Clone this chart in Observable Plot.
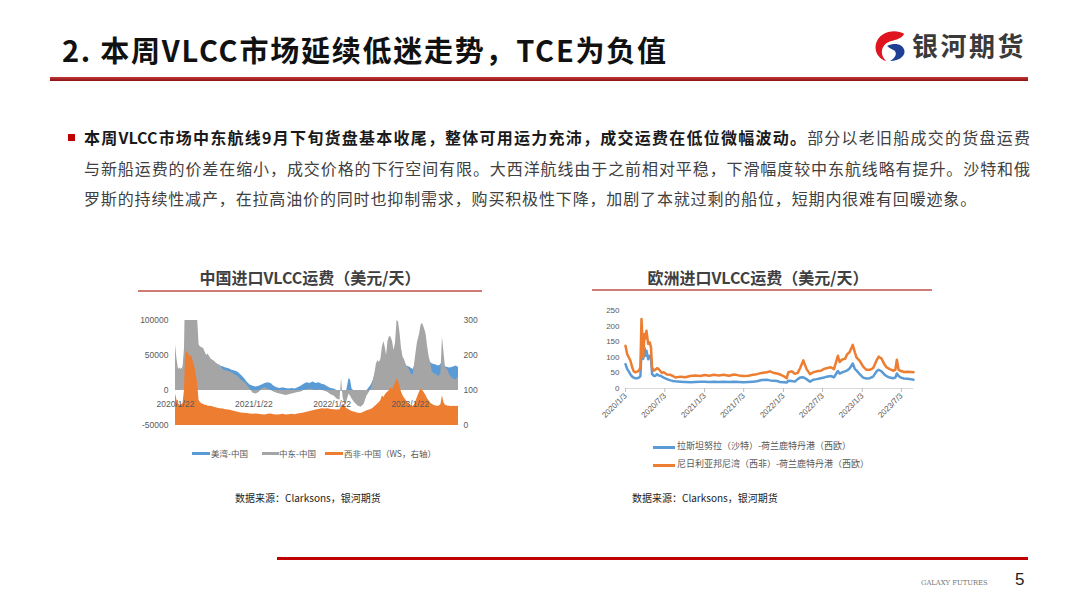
<!DOCTYPE html>
<html><head><meta charset="utf-8">
<script src="https://cdn.jsdelivr.net/npm/d3@7"></script>
<script src="https://cdn.jsdelivr.net/npm/@observablehq/plot@0.6"></script>
<style>
html,body{margin:0;padding:0;background:#fff;}
#page{position:relative;width:1080px;height:608px;overflow:hidden;font-family:"Noto Sans CJK SC","Noto Sans",sans-serif;}
.abs{position:absolute;white-space:nowrap;}
.line{position:absolute;left:84px;width:946px;height:30px;line-height:30px;font-size:16px;color:#404040;white-space:nowrap;}
.just{text-align:justify;text-align-last:justify;white-space:normal;}
.ctitle{position:absolute;text-align:center;font-size:16px;font-weight:700;color:#404040;line-height:22px;}
.leg{position:absolute;font-size:8.5px;color:#595959;line-height:12px;white-space:nowrap;}
.sw{position:absolute;height:3px;}
</style></head>
<body><div id="page">
<div class="abs" style="left:62px;top:29px;font-size:29px;font-weight:700;color:#111;line-height:40px;letter-spacing:1.75px;">2. 本周VLCC市场延续低迷走势，TCE为负值</div>
<div class="abs" style="left:50px;top:77px;width:978px;height:4px;background:linear-gradient(#c23a3a,#8e1010);"></div>
<svg class="abs" style="left:874px;top:29px" width="34" height="34" viewBox="0 0 36 34">
<path d="M32 4 C22 -2 5 2 2 15 C0 24 6 31 13 33 C6 27 7 17 15 13 C21 10 28 11 32 4Z" fill="#e0141e"/>
<path d="M14 17 C22 13 30 15 32 21 C34 27 27 33 17 33 C24 29 25 23 20 21 C18 20 16 19 14 17Z" fill="#1f3f94"/>
</svg>
<div class="abs" style="left:912px;top:27px;font-size:26px;font-weight:700;color:#3a3a3a;line-height:36px;letter-spacing:2.5px;">银河期货</div>

<div class="abs" style="left:68px;top:134px;width:7px;height:7px;background:#c00000;"></div>
<div class="line just" style="top:122px;"><b style="color:#1a1a1a">本周VLCC市场中东航线9月下旬货盘基本收尾，整体可用运力充沛，成交运费在低位微幅波动。</b>部分以老旧船成交的货盘运费</div>
<div class="line just" style="top:153px;">与新船运费的价差在缩小，成交价格的下行空间有限。大西洋航线由于之前相对平稳，下滑幅度较中东航线略有提升。沙特和俄</div>
<div class="line" style="top:183px;letter-spacing:0.85px;">罗斯的持续性减产，在拉高油价的同时也抑制需求，购买积极性下降，加剧了本就过剩的船位，短期内很难有回暖迹象。</div>

<div class="ctitle" style="left:138px;top:266px;width:344px;">中国进口VLCC运费（美元/天）</div>
<div class="abs" style="left:138px;top:290px;width:344px;height:1.5px;background:#cf7b78;"></div>
<div class="ctitle" style="left:586px;top:266px;width:344px;">欧洲进口VLCC运费（美元/天）</div>
<div class="abs" style="left:592px;top:289px;width:340px;height:1.5px;background:#cf7b78;"></div>

<div id="chartL" class="abs" style="left:130px;top:305px;"></div>
<div id="chartR" class="abs" style="left:585px;top:300px;"></div>

<div class="sw" style="left:192px;top:452px;width:18px;background:#5B9BD5"></div>
<div class="leg" style="left:211px;top:447px;">美湾-中国</div>
<div class="sw" style="left:262px;top:452px;width:17px;background:#A5A5A5"></div>
<div class="leg" style="left:279px;top:447px;">中东-中国</div>
<div class="sw" style="left:325px;top:452px;width:18px;background:#ED7D31"></div>
<div class="leg" style="left:344px;top:447px;">西非-中国（WS，右轴）</div>

<div class="sw" style="left:653px;top:446px;width:22px;background:#5B9BD5"></div>
<div class="leg" style="left:677px;top:440px;font-size:9px;">拉斯坦努拉（沙特）-荷兰鹿特丹港（西欧）</div>
<div class="sw" style="left:653px;top:464px;width:22px;background:#ED7D31"></div>
<div class="leg" style="left:677px;top:458px;font-size:9px;">尼日利亚邦尼湾（西非）-荷兰鹿特丹港（西欧）</div>

<div class="abs" style="left:235px;top:491px;font-size:10px;color:#222;line-height:14px;">数据来源：Clarksons，银河期货</div>
<div class="abs" style="left:632px;top:491px;font-size:10px;color:#222;line-height:14px;">数据来源：Clarksons，银河期货</div>

<div class="abs" style="left:277px;top:557px;width:751px;height:3px;background:#c00000;"></div>
<div class="abs" style="left:921px;top:577px;font-size:6.8px;color:#777;font-family:'DejaVu Serif','Liberation Serif',serif;line-height:12px;">GALAXY FUTURES</div>
<div class="abs" style="left:1015px;top:569px;font-size:17px;color:#222;font-family:'Liberation Sans',Arial,sans-serif;line-height:22px;">5</div>
</div>
<script>
// ---- 中国进口VLCC运费 ----
const cnDates = ["2020-01-22","2020-01-29","2020-02-05","2020-02-12","2020-02-19","2020-02-26","2020-03-04","2020-03-09","2020-03-16","2020-03-23","2020-03-30","2020-04-06","2020-04-13","2020-04-20","2020-04-27","2020-05-04","2020-05-11","2020-05-18","2020-05-25","2020-06-01","2020-06-08","2020-06-15","2020-06-22","2020-07-06","2020-07-20","2020-08-03","2020-08-17","2020-08-31","2020-09-14","2020-09-28","2020-10-12","2020-10-26","2020-11-09","2020-11-23","2020-12-07","2020-12-21","2021-01-04","2021-01-18","2021-02-01","2021-02-15","2021-03-01","2021-03-15","2021-03-29","2021-04-12","2021-04-26","2021-05-10","2021-05-24","2021-06-07","2021-06-21","2021-07-05","2021-07-19","2021-08-02","2021-08-16","2021-08-30","2021-09-13","2021-09-27","2021-10-11","2021-10-25","2021-11-08","2021-11-22","2021-12-06","2021-12-20","2022-01-03","2022-01-17","2022-01-31","2022-02-14","2022-02-28","2022-03-07","2022-03-14","2022-03-21","2022-03-28","2022-04-11","2022-04-18","2022-04-25","2022-05-09","2022-05-23","2022-06-06","2022-06-20","2022-07-04","2022-07-20","2022-07-27","2022-08-03","2022-08-10","2022-08-17","2022-08-24","2022-08-31","2022-09-07","2022-09-14","2022-09-21","2022-09-28","2022-10-03","2022-10-10","2022-10-17","2022-10-24","2022-10-31","2022-11-07","2022-11-14","2022-11-21","2022-11-28","2022-12-05","2022-12-12","2022-12-19","2022-12-26","2023-01-05","2023-01-15","2023-01-25","2023-02-05","2023-02-14","2023-02-24","2023-03-06","2023-03-13","2023-03-20","2023-03-30","2023-04-06","2023-04-13","2023-04-20","2023-04-27","2023-05-05","2023-05-15","2023-05-25","2023-06-05","2023-06-14","2023-06-21","2023-06-28","2023-07-05","2023-07-15","2023-07-25","2023-08-05","2023-08-15","2023-08-25","2023-09-04"];
// 美湾-中国 (美元/天)
const usgChina = [30000,33000,30000,28000,30000,32000,40000,60000,70000,75000,70000,65000,60000,60000,58000,55000,55000,55000,52000,56000,52000,50000,48000,42000,40000,38000,35000,34000,32000,31000,29000,28000,26000,22000,18000,12000,8000,6000,5000,6000,8000,10000,11000,10000,6000,4000,3000,4000,3000,2000,3000,2000,4000,6000,9000,11000,10000,12000,10000,11000,9000,8000,5000,3000,2000,0,-2000,0,-3000,-6000,-5000,17000,15000,2000,-2000,-5000,-8000,-5000,0,6000,10000,15000,22000,30000,35000,36000,40000,48000,52000,48000,45000,52000,58000,58000,55000,50000,55000,72000,70000,62000,50000,42000,38000,35000,34000,32000,30000,38000,50000,58000,66000,68000,62000,56000,48000,42000,40000,38000,37000,36000,35000,37000,42000,38000,34000,33000,32000,33000,34000,35000,33000];
// 中东-中国 (美元/天)
const megChina = [65000,45000,30000,32000,30000,33000,60000,150000,160000,170000,150000,140000,130000,120000,110000,105000,65000,62000,61000,60000,55000,50000,52000,45000,42000,38000,36000,30000,28000,27000,25000,22000,20000,15000,12000,8000,2000,-4000,-5000,-3000,2000,4000,2000,0,-2000,-4000,-5000,-6000,-7000,-6000,-5000,-4000,-3000,-2000,0,1000,2000,1000,0,1000,0,-1000,-3000,-6000,-8000,-12000,-14000,17000,-10000,-18000,-20000,-5000,-8000,-12000,-18000,-22000,-24000,-20000,-8000,0,5000,15000,25000,38000,43000,40000,45000,62000,70000,60000,50000,70000,77000,76000,70000,57000,68000,100000,98000,82000,60000,48000,44000,35000,32000,24000,22000,45000,68000,80000,93000,96000,88000,80000,62000,48000,40000,26000,24000,22000,20000,24000,76000,55000,33000,30000,22000,18000,16000,15000,20000];
// 西非-中国 (WS，右轴)
const wafChinaWS = [90,72,62,58,60,62,100,200,212,205,195,200,185,170,150,120,72,65,62,60,58,58,55,55,52,50,48,47,45,44,42,40,38,36,35,34,33,32,33,32,31,30,32,33,31,30,31,32,30,31,32,31,33,34,36,38,40,42,44,46,48,47,48,46,45,44,45,55,60,58,50,45,42,40,38,35,34,38,42,45,47,50,54,58,62,66,72,84,80,88,92,96,100,108,102,110,122,133,125,112,95,85,78,70,62,56,55,62,80,95,104,100,92,84,76,70,64,60,57,55,55,60,85,66,58,56,55,54,55,54,55];
const cnXTicks = ["2020-01-22","2021-01-22","2022-01-22","2023-01-22"];
const cnLeftTicks = [-50000,0,50000,100000];
const cnRightTicks = [0,100,200,300];

// ---- 欧洲进口VLCC运费 ----
const euDates = ["2020-01-03","2020-01-11","2020-01-18","2020-01-26","2020-02-03","2020-02-10","2020-02-18","2020-02-26","2020-03-05","2020-03-12","2020-03-17","2020-03-25","2020-03-31","2020-04-04","2020-04-09","2020-04-17","2020-04-24","2020-04-30","2020-05-05","2020-05-13","2020-05-20","2020-05-28","2020-06-05","2020-06-13","2020-06-20","2020-06-28","2020-07-13","2020-07-29","2020-08-10","2020-08-21","2020-09-13","2020-10-05","2020-10-29","2020-11-20","2020-12-15","2021-01-03","2021-01-25","2021-02-15","2021-03-10","2021-04-01","2021-04-25","2021-05-20","2021-06-10","2021-07-02","2021-07-25","2021-08-15","2021-09-02","2021-09-25","2021-10-18","2021-11-02","2021-11-20","2021-12-05","2021-12-18","2022-01-03","2022-01-18","2022-01-26","2022-02-10","2022-02-25","2022-03-10","2022-03-21","2022-04-05","2022-04-20","2022-05-06","2022-05-21","2022-06-06","2022-06-25","2022-07-10","2022-07-22","2022-08-10","2022-08-25","2022-09-12","2022-09-20","2022-10-02","2022-10-15","2022-10-25","2022-11-05","2022-11-20","2022-11-30","2022-12-07","2022-12-23","2023-01-07","2023-01-22","2023-02-07","2023-02-22","2023-03-10","2023-03-20","2023-04-02","2023-04-15","2023-04-25","2023-05-10","2023-05-25","2023-06-05","2023-06-12","2023-06-20","2023-07-01","2023-07-15","2023-08-01","2023-08-15","2023-08-28"];
// 拉斯坦努拉（沙特）-荷兰鹿特丹港（西欧）
const rasTanuraEu = [78,62,55,45,38,35,33,33,35,40,121,95,130,105,121,94,105,95,46,41,40,46,42,41,38,35,30,26,24,23,22,21,20,21,22,22,21,22,21,22,21,22,21,20,21,22,23,27,28,26,25,24,21,20,19,25,24,22,30,35,36,30,22,28,30,33,35,38,40,36,56,48,52,55,58,64,80,62,58,45,35,32,33,38,55,60,55,45,40,35,33,35,48,40,35,32,31,30,28];
// 尼日利亚邦尼湾（西非）-荷兰鹿特丹港（西欧）
const bonnyEu = [137,110,100,89,68,55,52,54,57,68,223,100,175,160,185,143,148,132,68,57,60,65,62,55,50,52,45,44,40,35,38,36,40,42,40,43,41,44,42,44,41,45,42,40,41,44,46,50,52,55,50,48,45,40,33,52,55,47,50,65,90,62,46,52,55,57,63,65,68,62,105,85,93,95,110,116,140,115,100,88,70,60,60,65,90,102,96,78,68,62,57,60,92,60,56,53,54,53,52];
const euXTicks = ["2020-01-03","2020-07-03","2021-01-03","2021-07-03","2022-01-03","2022-07-03","2023-01-03","2023-07-03"];
const euYTicks = [0,50,100,150,200,250];

const parse = d3.utcParse("%Y-%m-%d");
const fmtDate = d3.utcFormat("%Y/%-m/%-d");
const wsToLeft = v => (v - 100) * 500;

const cnData = cnDates.map((d, i) => ({date: parse(d), usg: usgChina[i], meg: megChina[i], waf: wafChinaWS[i]}));
const euData = euDates.map((d, i) => ({date: parse(d), rt: rasTanuraEu[i], bonny: bonnyEu[i]}));

const axisStyle = {fontFamily: "'Liberation Sans', Arial, sans-serif", color: "#595959", background: "transparent", overflow: "visible"};

const left = Plot.plot({
  width: 360, height: 140,
  marginLeft: 45, marginRight: 32, marginTop: 15, marginBottom: 20,
  style: {...axisStyle, fontSize: "8.5px"},
  x: {type: "utc", domain: [parse(cnDates[0]), parse(cnDates[cnDates.length - 1])]},
  y: {domain: [-50000, 100000]},
  marks: [
    Plot.areaY(cnData, {x: "date", y: "usg", fill: "#5B9BD5", clip: true}),
    Plot.areaY(cnData, {x: "date", y: "meg", fill: "#A5A5A5", clip: true}),
    Plot.areaY(cnData, {x: "date", y1: () => wsToLeft(0), y2: d => wsToLeft(d.waf), fill: "#ED7D31", clip: true}),
    Plot.axisY(cnLeftTicks, {tickSize: 0, tickPadding: 7, tickFormat: d => String(d), label: null}),
    Plot.axisY(cnRightTicks.map(wsToLeft), {anchor: "right", tickSize: 0, tickPadding: 5, tickFormat: d => String(d / 500 + 100), label: null}),
    Plot.axisX(cnXTicks.map(parse), {tickSize: 0, tickPadding: 0, dy: -25, tickFormat: fmtDate, label: null, fill: "#595959"})
  ]
});
document.getElementById("chartL").appendChild(left);

const right = Plot.plot({
  width: 345, height: 135,
  marginLeft: 40, marginRight: 17, marginTop: 10, marginBottom: 47,
  style: {...axisStyle, fontSize: "8px"},
  x: {type: "utc", domain: [parse(euDates[0]), parse(euDates[euDates.length - 1])]},
  y: {domain: [0, 250]},
  marks: [
    Plot.ruleY([0], {stroke: "#d9d9d9"}),
    Plot.lineY(euData, {x: "date", y: "rt", stroke: "#5B9BD5", strokeWidth: 2.5}),
    Plot.lineY(euData, {x: "date", y: "bonny", stroke: "#ED7D31", strokeWidth: 2.5}),
    Plot.axisY(euYTicks, {tickSize: 0, tickPadding: 6, label: null}),
    Plot.axisX(euXTicks.map(parse), {tickRotate: -45, tickSize: 4, tickPadding: 2, stroke: "#bfbfbf", tickFormat: fmtDate, label: null})
  ]
});
document.getElementById("chartR").appendChild(right);
</script>
</body></html>
